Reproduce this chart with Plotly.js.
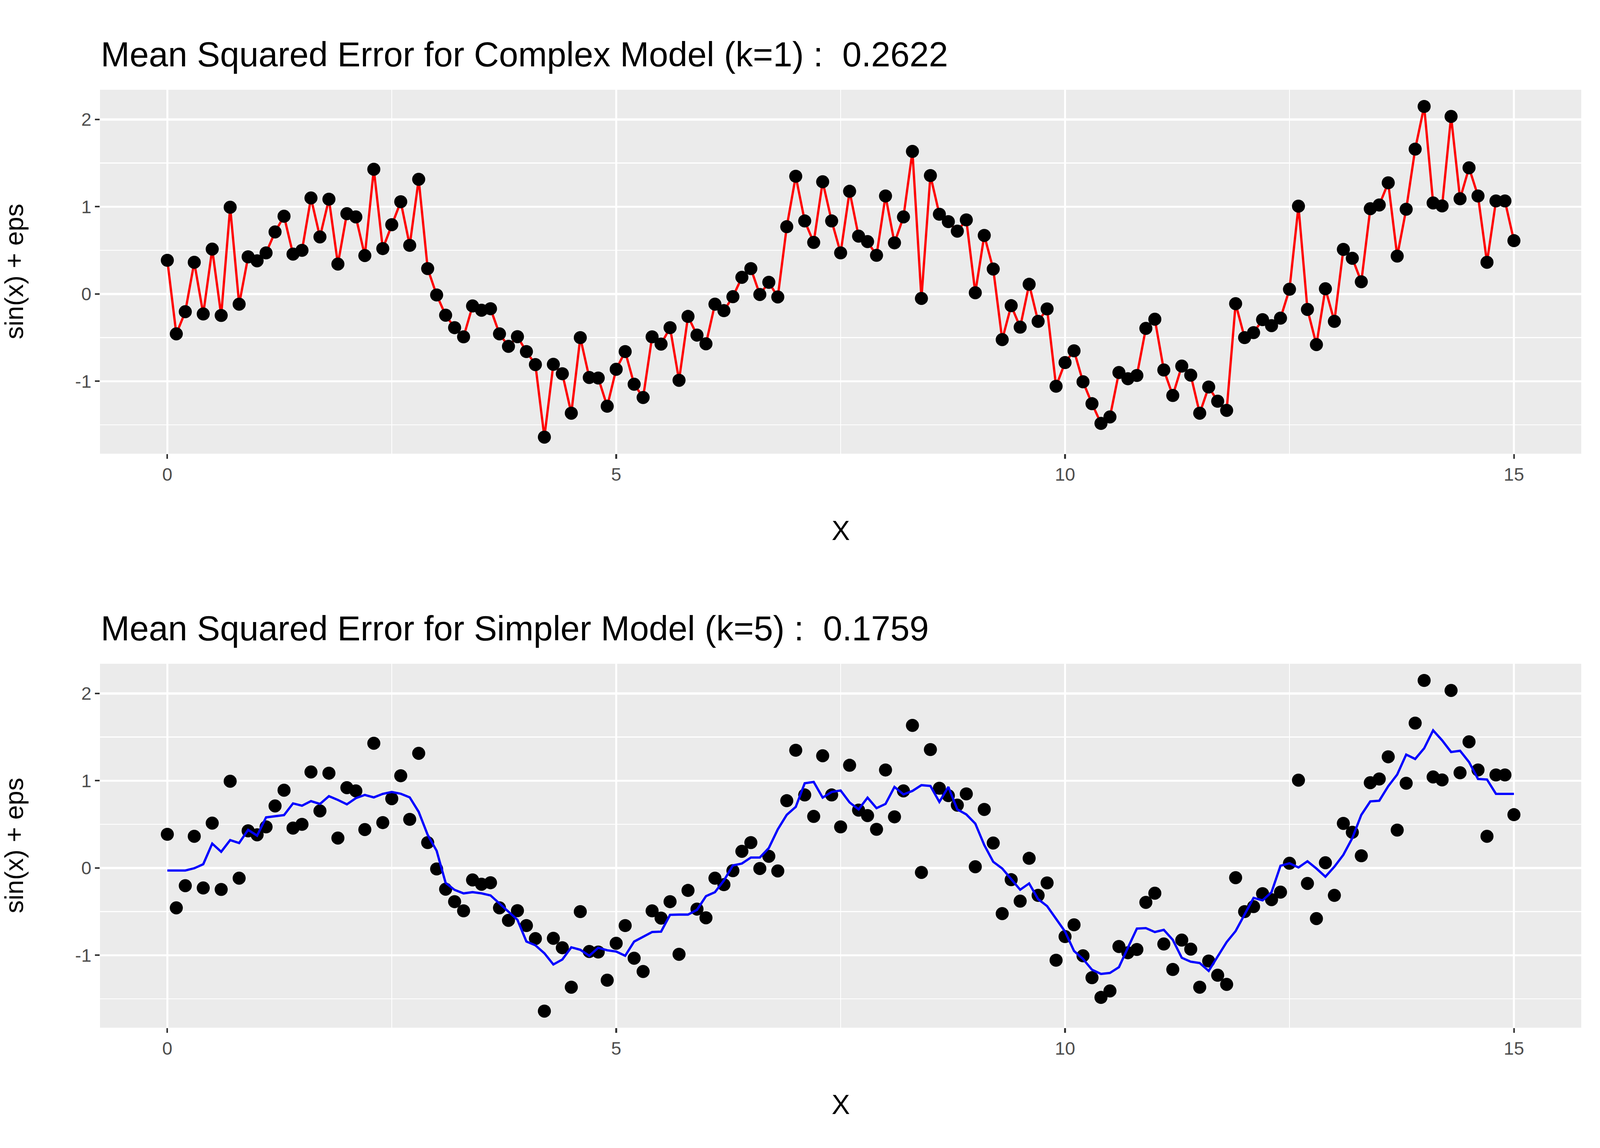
<!DOCTYPE html>
<html><head><meta charset="utf-8">
<script src="https://cdn.plot.ly/plotly-3.0.1.min.js"></script>
<style>html,body{margin:0;padding:0;background:#fff;overflow:hidden}</style>
</head><body><div id="chart"></div>
<script>
const xVals = [0,0.1,0.2,0.3,0.4,0.5,0.6,0.7,0.8,0.9,1,1.1,1.2,1.3,1.4,1.5,1.6,1.7,1.8,1.9,2,2.1,2.2,2.3,2.4,2.5,2.6,2.7,2.8,2.9,3,3.1,3.2,3.3,3.4,3.5,3.6,3.7,3.8,3.9,4,4.1,4.2,4.3,4.4,4.5,4.6,4.7,4.8,4.9,5,5.1,5.2,5.3,5.4,5.5,5.6,5.7,5.8,5.9,6,6.1,6.2,6.3,6.4,6.5,6.6,6.7,6.8,6.9,7,7.1,7.2,7.3,7.4,7.5,7.6,7.7,7.8,7.9,8,8.1,8.2,8.3,8.4,8.5,8.6,8.7,8.8,8.9,9,9.1,9.2,9.3,9.4,9.5,9.6,9.7,9.8,9.9,10,10.1,10.2,10.3,10.4,10.5,10.6,10.7,10.8,10.9,11,11.1,11.2,11.3,11.4,11.5,11.6,11.7,11.8,11.9,12,12.1,12.2,12.3,12.4,12.5,12.6,12.7,12.8,12.9,13,13.1,13.2,13.3,13.4,13.5,13.6,13.7,13.8,13.9,14,14.1,14.2,14.3,14.4,14.5,14.6,14.7,14.8,14.9,15];
const yObs = [0.386,-0.457,-0.203,0.363,-0.229,0.514,-0.246,0.994,-0.117,0.426,0.38,0.471,0.711,0.891,0.457,0.5,1.1,0.654,1.086,0.343,0.92,0.883,0.44,1.429,0.52,0.794,1.057,0.557,1.314,0.291,-0.011,-0.243,-0.386,-0.491,-0.137,-0.186,-0.169,-0.457,-0.6,-0.489,-0.66,-0.809,-1.64,-0.806,-0.914,-1.366,-0.5,-0.957,-0.963,-1.286,-0.863,-0.66,-1.034,-1.186,-0.491,-0.574,-0.386,-0.989,-0.257,-0.471,-0.571,-0.117,-0.191,-0.031,0.191,0.291,-0.006,0.134,-0.034,0.771,1.349,0.837,0.591,1.286,0.837,0.471,1.177,0.663,0.6,0.443,1.123,0.586,0.883,1.634,-0.051,1.357,0.914,0.829,0.72,0.849,0.014,0.671,0.286,-0.523,-0.134,-0.38,0.111,-0.314,-0.171,-1.057,-0.786,-0.651,-1.006,-1.257,-1.483,-1.409,-0.9,-0.971,-0.934,-0.394,-0.289,-0.871,-1.163,-0.826,-0.93,-1.366,-1.066,-1.229,-1.334,-0.111,-0.5,-0.443,-0.294,-0.363,-0.277,0.054,1.006,-0.177,-0.58,0.06,-0.314,0.511,0.409,0.14,0.977,1.02,1.274,0.434,0.971,1.66,2.149,1.043,1.009,2.034,1.091,1.446,1.123,0.363,1.066,1.066,0.611];
const yFitK5 = [-0.029,-0.029,-0.029,-0.003,0.043,0.28,0.186,0.32,0.286,0.437,0.371,0.58,0.591,0.606,0.74,0.714,0.766,0.734,0.823,0.78,0.729,0.8,0.837,0.809,0.849,0.871,0.851,0.809,0.643,0.38,0.197,-0.171,-0.251,-0.291,-0.277,-0.291,-0.314,-0.409,-0.5,-0.594,-0.843,-0.886,-0.977,-1.106,-1.049,-0.909,-0.937,-1.006,-0.914,-0.943,-0.957,-1.006,-0.843,-0.786,-0.734,-0.729,-0.537,-0.534,-0.534,-0.48,-0.323,-0.277,-0.143,0.029,0.051,0.12,0.12,0.229,0.443,0.609,0.7,0.971,0.986,0.806,0.871,0.888,0.751,0.671,0.806,0.686,0.734,0.929,0.843,0.883,0.949,0.94,0.757,0.929,0.671,0.614,0.509,0.263,0.071,-0.006,-0.129,-0.249,-0.177,-0.357,-0.437,-0.586,-0.729,-0.951,-1.043,-1.166,-1.214,-1.203,-1.137,-0.914,-0.694,-0.689,-0.734,-0.709,-0.823,-1.029,-1.074,-1.089,-1.18,-1.014,-0.849,-0.723,-0.529,-0.343,-0.371,-0.277,0.026,0.054,0.006,0.077,-0.006,-0.1,0.014,0.151,0.343,0.609,0.763,0.771,0.937,1.071,1.3,1.249,1.371,1.577,1.463,1.329,1.343,1.214,1.02,1.014,0.849,0.849,0.849];
const title1 = "Mean Squared Error for Complex Model (k=1) :  0.2622";
const title2 = "Mean Squared Error for Simpler Model (k=5) :  0.1759";
const xTicks = [0,5,10,15];
const yTicks = [-1,0,1,2];
const yTickText = ["-1","0","1","2"];

const W = window.innerWidth || 4900;
const H = window.innerHeight || 2940;
const s = Math.min(W/4900, H/2940);
const el = document.getElementById('chart');
el.style.width = W+'px'; el.style.height = H+'px';

const FONT = "Liberation Sans, Arial, sans-serif";
const pts = (xa, ya) => ({x:xVals, y:yObs, xaxis:xa, yaxis:ya, mode:'markers', type:'scatter',
  marker:{color:'#000', size:40*s}, hoverinfo:'skip', showlegend:false});
const traces = [
  {x:xVals, y:yObs, xaxis:'x', yaxis:'y', mode:'lines', type:'scatter', line:{color:'#FF0000', width:7*s}, showlegend:false},
  pts('x','y'),
  pts('x2','y2'),
  {x:xVals, y:yFitK5, xaxis:'x2', yaxis:'y2', mode:'lines', type:'scatter', line:{color:'#0000FF', width:7*s}, showlegend:false}
];
const xa = (anchor) => ({anchor, domain:[0,1], range:[-0.75,15.75], tickvals:xTicks, ticktext:xTicks.map(String),
  showgrid:true, gridcolor:'#fff', gridwidth:6.5*s, zeroline:false, ticks:'outside', ticklen:14*s, tickwidth:5*s, tickcolor:'#333',
  tickfont:{family:FONT, size:56*s, color:'#4D4D4D'}, minor:{tickvals:[2.5,7.5,12.5], showgrid:true, gridcolor:'#fff', gridwidth:3.2*s, ticks:''},
  showline:false});
const ya = (anchor, dom) => ({anchor, domain:dom, range:[-1.83,2.34], tickvals:yTicks, ticktext:yTickText,
  showgrid:true, gridcolor:'#fff', gridwidth:6.5*s, zeroline:false, ticks:'outside', ticklen:14*s, tickwidth:5*s, tickcolor:'#333',
  tickfont:{family:FONT, size:56*s, color:'#4D4D4D'}, minor:{tickvals:[-1.5,-0.5,0.5,1.5], showgrid:true, gridcolor:'#fff', gridwidth:3.2*s, ticks:''},
  showline:false});
const ann = (text, x, y, size, opts={}) => Object.assign({text, x, y, xref:'paper', yref:'paper', showarrow:false,
  font:{family:FONT, size:size*s, color:'#000'}}, opts);
const layout = {
  width:W, height:H, paper_bgcolor:'#fff', plot_bgcolor:'#EBEBEB',
  margin:{l:306*s, r:57*s, t:0, b:0},
  xaxis: xa('y'), yaxis: ya('x',[0.6048,0.9218]),
  xaxis2: xa('y2'), yaxis2: ya('x2',[0.1048,0.4218]),
  annotations:[
    ann(title1, 0, 0.935, 106, {xanchor:'left', yanchor:'bottom'}),
    ann(title2, 0, 0.435, 106, {xanchor:'left', yanchor:'bottom'}),
    ann('X', 0.5, 0.538, 84, {xanchor:'center', yanchor:'middle'}),
    ann('X', 0.5, 0.038, 84, {xanchor:'center', yanchor:'middle'}),
    ann('sin(x) + eps', -0.058, 0.7633, 80, {xanchor:'center', yanchor:'middle', textangle:-90}),
    ann('sin(x) + eps', -0.058, 0.2633, 80, {xanchor:'center', yanchor:'middle', textangle:-90})
  ]
};
Plotly.newPlot('chart', traces, layout, {displayModeBar:false, staticPlot:true});
</script></body></html>
